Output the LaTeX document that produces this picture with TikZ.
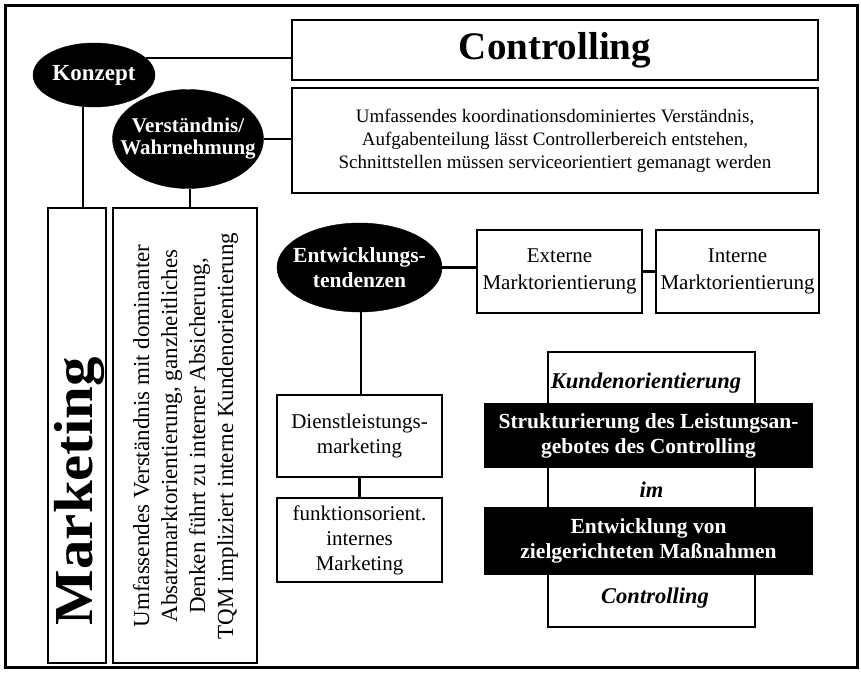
\documentclass[tikz,border=0pt]{standalone}
\usepackage{fontspec}
\setmainfont{Liberation Serif}
\newfontfamily\widefont[FakeStretch=1.07]{Liberation Serif}
\usetikzlibrary{shapes.geometric}
\newcommand\fsz[2]{\fontsize{#1}{#2}\selectfont}
\begin{document}
\begin{tikzpicture}[x=1pt,y=-1pt,
  box/.style={draw, line width=1.6pt, inner sep=0pt, align=center, fill=white},
  oval/.style={ellipse, fill=black, draw=black, inner xsep=-20pt, inner ysep=0pt, align=center, text=white},
  band/.style={fill=black, inner sep=0pt, align=center, text=white, font=\bfseries\fsz{21.5}{25}},
  plain/.style={inner sep=0pt, align=center},
  conn/.style={line width=2.4pt}]
\useasboundingbox (0,0) rectangle (861,678);
\draw[line width=3pt] (5,5) rectangle (857,667);

% top-left ellipses
\node[oval, minimum width=122, minimum height=64, font=\bfseries\fsz{23}{25}] (konzept) at (94,75) {Konzept};
\node[oval, minimum width=151, minimum height=99, font=\bfseries\fsz{21}{22}] (verst) at (188,139) {Verständnis/\\Wahrnehmung};

% top boxes
\node[box, minimum width=526, minimum height=60, font=\bfseries\fsz{39}{42}] (ctrl) at (555,50) {Controlling};
\node[box, minimum width=526, minimum height=105, font=\fsz{19}{23}] (desc) at (555,140.5)
  {Umfassendes koordinationsdominiertes Verständnis,\\Aufgabenteilung lässt Controllerbereich entstehen,\\Schnittstellen müssen serviceorientiert gemanagt werden};

% left columns
\node[box, minimum width=58, minimum height=455] (mkt) at (77,435.5) {};
\node[plain, rotate=90, font=\widefont\bfseries\fsz{55}{58}] (mkttext) at (79,491) {Marketing};
\node[box, minimum width=144, minimum height=455] (vdesc) at (185,435.5) {};
\node[plain, rotate=90, font=\fsz{23}{28}] (vdesctext) at (185.5,436)
  {Umfassendes Verständnis mit dominanter\\Absatzmarktorientierung, ganzheitliches\\Denken führt zu interner Absicherung,\\TQM impliziert interne Kundenorientierung};

% middle
\node[oval, minimum width=165, minimum height=89, font=\bfseries\fsz{21.5}{25}] (entw) at (359.5,267.5) {Entwicklungs-\\tendenzen};
\node[box, minimum width=165, minimum height=83, font=\fsz{21}{27}] (ext) at (559.5,271.5) {Externe\\Marktorientierung};
\node[box, minimum width=163, minimum height=83, font=\fsz{21}{27}] (int) at (737.5,271.5) {Interne\\Marktorientierung};
\node[box, minimum width=165, minimum height=82, font=\fsz{21}{25}] (dienst) at (359.5,436) {Dienstleistungs-\\marketing};
\node[box, minimum width=165, minimum height=84, font=\fsz{21}{25}] (funkt) at (359.5,540) {funktionsorient.\\internes\\Marketing};

% right column
\node[box, minimum width=207, minimum height=275] (rc) at (651.5,489.5) {};
\node[band, minimum width=329, minimum height=65] (band1) at (648.5,435.5) {Strukturierung des Leistungsan-\\gebotes des Controlling};
\node[band, minimum width=329, minimum height=68] (band2) at (648.5,541) {Entwicklung von\\zielgerichteten Maßnahmen};
\node[plain, font=\bfseries\itshape\fsz{22.5}{24}] (kund) at (646,383) {Kundenorientierung};
\node[plain, font=\bfseries\itshape\fsz{22.5}{24}] (im) at (651.5,490) {im};
\node[plain, font=\bfseries\itshape\fsz{22.5}{24}] (ctrl2) at (655,598) {Controlling};

% connectors
\draw[conn] (konzept.18) -- (konzept.18 -| ctrl.west);
\draw[conn] (verst.east) -- (verst.east -| desc.west);
\draw[conn] (konzept.251) -- (konzept.251 |- mkt.north);
\draw[conn] (verst.272) -- (verst.272 |- vdesc.north);
\draw[conn] (entw.east) -- (entw.east -| ext.west);
\draw[conn] (ext.east) -- (int.west);
\draw[conn] (entw.272) -- (entw.272 |- dienst.north);
\draw[conn] (dienst.south) -- (funkt.north);
\end{tikzpicture}
\end{document}
